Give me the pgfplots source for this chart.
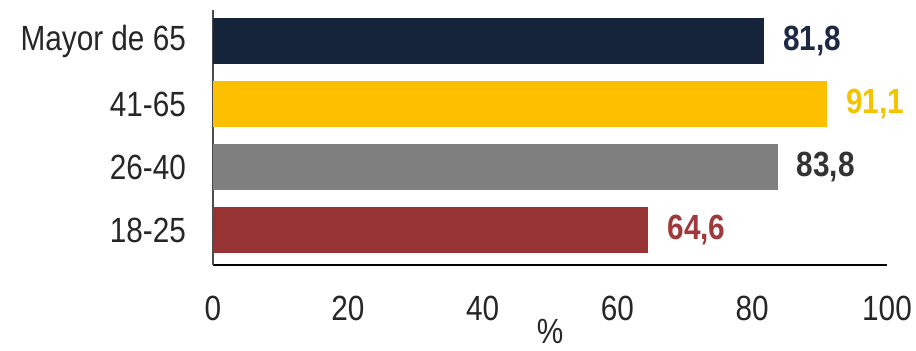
\documentclass[border=0pt]{standalone}
\usepackage{fontspec}
\setmainfont{Liberation Sans}[FakeStretch=0.85]
\usepackage{pgfplots}
\pgfplotsset{compat=1.18}
\definecolor{cnavy}{HTML}{15233B}
\definecolor{cgold}{HTML}{FCC000}
\definecolor{cgray}{HTML}{7F7F7F}
\definecolor{cred}{HTML}{983333}
\definecolor{lnavy}{HTML}{1E2A44}
\definecolor{lgold}{HTML}{F5C400}
\definecolor{lgray}{HTML}{333333}
\definecolor{lred}{HTML}{A0393B}
\begin{document}
\begin{tikzpicture}
\useasboundingbox (-106.5pt,-42.5pt) rectangle (351.5pt,132.5pt);
\begin{axis}[
  at={(0,0)}, anchor=south west,
  scale only axis, width=337pt, height=127.5pt,
  xbar, bar width=23pt, bar shift=0pt,
  xmin=0, xmax=100, ymin=-0.55, ymax=3.5,
  ytick={0,1,2,3}, yticklabels={18-25,26-40,41-65,Mayor de 65},
  xtick={0,20,...,100},
  axis x line*=bottom, axis y line*=left,
  x axis line style={black, line width=1pt, -},
  y axis line style={black!70, line width=0.6pt, -},
  major tick length=0pt,
  /pgf/number format/assume math mode=true,
  tick label style={font=\fontsize{17.5}{20}\selectfont, text=black!85},
  xticklabel style={yshift=-12pt},
  yticklabel style={xshift=-10pt},
  xlabel={\%},
  xlabel style={font=\fontsize{17.5}{20}\selectfont, text=black!85, yshift=7.5pt},
  nodes near coords={\pgfmathprintnumber[use comma,fixed,fixed zerofill,precision=1]{\pgfplotspointmeta}},
  nodes near coords align={horizontal},
  every node near coord/.append style={font=\bfseries\fontsize{17.5}{20}\selectfont, xshift=6pt},
]
\addplot[fill=cnavy, draw=none, nodes near coords style={text=lnavy}] coordinates {(81.8,3)};
\addplot[fill=cgold, draw=none, nodes near coords style={text=lgold}] coordinates {(91.1,2)};
\addplot[fill=cgray, draw=none, nodes near coords style={text=lgray}] coordinates {(83.8,1)};
\addplot[fill=cred, draw=none, nodes near coords style={text=lred}] coordinates {(64.6,0)};
\end{axis}
\end{tikzpicture}
\end{document}
